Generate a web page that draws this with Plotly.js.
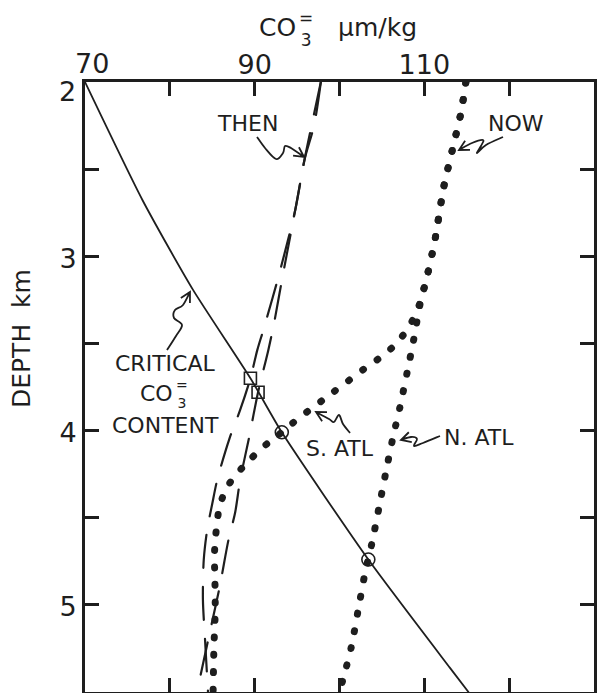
<!DOCTYPE html>
<html>
<head>
<meta charset="utf-8">
<script src="https://cdn.plot.ly/plotly-3.0.1.min.js"></script>
<style>
  html, body { margin: 0; padding: 0; background: #ffffff; }
  #chart { width: 609px; height: 693px; }
  .scatterlayer .js-line { stroke-linecap: round; }
</style>
</head>
<body>
<div id="chart"></div>
<script>
// ---------------- DATA ----------------
// Critical CO3= content (solid line)
const critCO3   = [70.0, 76.8, 82.7, 89.5, 93.2, 103.4, 113.0, 115.2];
const critDepth = [2.00, 2.68, 3.19, 3.70, 4.01, 4.74, 5.36, 5.50];

// "THEN" profiles (long-dashed), two branches
const thenACO3   = [97.8, 97.0, 95.9, 94.8, 92.9, 91.1, 90.3, 89.5, 88.3, 87.0, 85.6, 85.0, 84.4, 84.0, 83.9, 84.15, 84.5];
const thenADepth = [2.00, 2.25, 2.44, 2.73, 3.10, 3.41, 3.54, 3.70, 3.88, 4.05, 4.28, 4.42, 4.57, 4.74, 4.97, 5.20, 5.50];
const thenBCO3   = [97.8, 95.9, 94.8, 93.35, 92.3, 91.6, 90.4, 89.3, 88.3, 87.7, 86.9, 85.9, 84.7, 83.2];
const thenBDepth = [2.00, 2.44, 2.73, 3.10, 3.38, 3.54, 3.78, 4.05, 4.28, 4.47, 4.63, 4.89, 5.16, 5.50];

// "NOW" profiles (dotted): shared upper part, then N. Atlantic and S. Atlantic branches
const nowUpperCO3   = [114.9, 114.3, 113.3, 112.3, 111.2, 110.3, 109.6];
const nowUpperDepth = [2.00, 2.18, 2.39, 2.60, 2.92, 3.12, 3.25];
const nAtlCO3   = [108.7, 108.0, 107.15, 106.3, 105.5, 104.7, 103.85, 103.0, 102.2, 101.4, 100.4, 100.0];
const nAtlDepth = [3.49, 3.66, 3.86, 4.04, 4.23, 4.43, 4.64, 4.82, 5.03, 5.24, 5.43, 5.50];
const sAtlCO3   = [108.9, 107.85, 106.3, 104.55, 102.8, 100.9, 99.25, 97.35, 95.7, 94.4, 93.2, 91.6, 90.2, 88.6, 87.35, 86.4, 85.8, 85.55, 85.35, 85.25, 85.3, 85.35, 85.2, 85.1];
const sAtlDepth = [3.34, 3.43, 3.52, 3.59, 3.65, 3.72, 3.78, 3.85, 3.91, 3.96, 4.01, 4.07, 4.13, 4.21, 4.28, 4.36, 4.45, 4.54, 4.63, 4.73, 4.82, 5.03, 5.24, 5.50];

// Intersections: squares (THEN x critical), circles (NOW x critical)
const squareCO3   = [89.5, 90.4];
const squareDepth = [3.70, 3.78];
const circleCO3   = [93.2, 103.4];
const circleDepth = [4.01, 4.74];

// Axis ticks (the corner labels "70" and "2" are placed as separate texts, as in the original lettering)
const xTickVals = [70, 80, 90, 100, 110, 120, 130];
const xTickText = ['', '', '90', '', '110', '', '130'];
const yTickVals = [2, 2.5, 3, 3.5, 4, 4.5, 5];
const yTickText = ['', '', '3', '', '4', '', '5'];
const cornerXLabel = '70';
const cornerYLabel = '2';

// ---------------- STYLE / LAYOUT ----------------
const INK = '#1e1e1e';
const FONT = 'DejaVu Sans, Liberation Sans, sans-serif';
const L0 = 85, T0 = 82, W = 509, H = 610;
const px = x => (x - L0) / W;
const py = y => (T0 + H - y) / H;

const traces = [
  { x: critCO3, y: critDepth, mode: 'lines', line: { color: INK, width: 1.8, shape: 'spline', smoothing: 0.6 }, hoverinfo: 'skip' },
  { x: thenACO3, y: thenADepth, mode: 'lines', line: { color: INK, width: 2.2, dash: '33px,19px', shape: 'spline', smoothing: 0.8 }, hoverinfo: 'skip' },
  { x: thenBCO3, y: thenBDepth, mode: 'lines', line: { color: INK, width: 2.2, dash: '33px,19px', shape: 'spline', smoothing: 0.8 }, hoverinfo: 'skip' },
  { x: nowUpperCO3.concat(nAtlCO3), y: nowUpperDepth.concat(nAtlDepth), mode: 'lines', line: { color: INK, width: 7, dash: '1px,16.5px', shape: 'spline', smoothing: 0.8 }, hoverinfo: 'skip' },
  { x: nowUpperCO3.concat(sAtlCO3), y: nowUpperDepth.concat(sAtlDepth), mode: 'lines', line: { color: INK, width: 7, dash: '1px,16.5px', shape: 'spline', smoothing: 0.8 }, hoverinfo: 'skip' },
  { x: squareCO3, y: squareDepth, mode: 'markers', marker: { symbol: 'square-open', size: 12, color: INK, line: { width: 1.6, color: INK } }, hoverinfo: 'skip' },
  { x: circleCO3, y: circleDepth, mode: 'markers', marker: { symbol: 'circle-open', size: 13, color: INK, line: { width: 1.6, color: INK } }, hoverinfo: 'skip' }
];

function squiggle(pts) {
  const P = pts.map(p => [px(p[0]), py(p[1])]);
  let d = `M${P[0][0]},${P[0][1]}`;
  for (let i = 0; i < P.length - 1; i++) {
    const p0 = P[Math.max(0, i - 1)], p1 = P[i], p2 = P[i + 1], p3 = P[Math.min(P.length - 1, i + 2)];
    const c1 = [p1[0] + (p2[0] - p0[0]) / 6, p1[1] + (p2[1] - p0[1]) / 6];
    const c2 = [p2[0] - (p3[0] - p1[0]) / 6, p2[1] - (p3[1] - p1[1]) / 6];
    d += ` C${c1[0]},${c1[1]} ${c2[0]},${c2[1]} ${p2[0]},${p2[1]}`;
  }
  const t = pts[pts.length - 1], s = pts[pts.length - 2];
  let dx = s[0] - t[0], dy = s[1] - t[1];
  const len = Math.hypot(dx, dy); dx /= len; dy /= len;
  const ang = 28 * Math.PI / 180, L = 11;
  const w1 = [t[0] + L * (dx * Math.cos(ang) - dy * Math.sin(ang)), t[1] + L * (dx * Math.sin(ang) + dy * Math.cos(ang))];
  const w2 = [t[0] + L * (dx * Math.cos(-ang) - dy * Math.sin(-ang)), t[1] + L * (dx * Math.sin(-ang) + dy * Math.cos(-ang))];
  d += ` M${px(w1[0])},${py(w1[1])} L${px(t[0])},${py(t[1])} L${px(w2[0])},${py(w2[1])}`;
  return { type: 'path', xref: 'paper', yref: 'paper', path: d, line: { color: INK, width: 1.8 } };
}

const shapes = [
  squiggle([[257,137],[265,148],[276,159],[283,153],[285,146],[291,148],[304,157]]),        // THEN
  squiggle([[503,137],[486,145],[477,153],[481,146],[483,140],[472,143],[459,150]]),        // NOW
  squiggle([[167,350],[176,336],[182,325],[174,318],[175,310],[183,305],[190,292]]),        // CRITICAL
  squiggle([[350,433],[343,424],[339,415],[334,422],[329,419],[316,412]]),                  // S. ATL
  squiggle([[440,436],[423,443],[414,446],[417,439],[411,437],[401,440]])                   // N. ATL
];

function lab(text, x, y, size, opts) {
  return Object.assign({ xref: 'paper', yref: 'paper', x: px(x), y: py(y), text: text, showarrow: false,
    xanchor: 'center', yanchor: 'middle', font: { family: FONT, size: size, color: INK } }, opts || {});
}

const annotations = [
  // corner tick labels
  lab(cornerXLabel, 92, 64, 27),
  lab(cornerYLabel, 67, 91, 27),
  // x-axis title: CO3= µm/kg (stacked = over 3)
  lab('CO', 298, 28, 25, { xanchor: 'right' }),
  lab('=<br>3', 306, 29, 17),
  lab('\u03BCm/kg', 336, 28, 25, { xanchor: 'left' }),
  // y-axis title
  lab('DEPTH  km', 21, 339, 25, { textangle: -90 }),
  // curve labels
  lab('THEN', 247, 123, 22),
  lab('NOW', 516, 123, 22),
  lab('CRITICAL', 165, 363, 22),
  lab('CO', 175, 393, 22, { xanchor: 'right' }),
  lab('=<br>3', 182, 394, 14),
  lab('CONTENT', 165, 425, 22),
  lab('S. ATL', 340, 448, 22),
  lab('N. ATL', 479, 437, 22)
];

const axisCommon = {
  ticks: 'inside', ticklen: 14, tickwidth: 3, tickcolor: INK,
  showline: true, linewidth: 3, linecolor: INK, mirror: 'allticks',
  showgrid: false, zeroline: false, fixedrange: true,
  tickfont: { family: FONT, size: 27, color: INK }
};

const layout = {
  width: 609, height: 693,
  margin: { l: L0, r: 609 - L0 - W, t: T0, b: 693 - T0 - H, pad: 0 },
  paper_bgcolor: '#ffffff', plot_bgcolor: '#ffffff',
  showlegend: false,
  xaxis: Object.assign({}, axisCommon, { range: [70, 130], side: 'top', tickmode: 'array', tickvals: xTickVals, ticktext: xTickText, ticklabelstandoff: -6 }),
  yaxis: Object.assign({}, axisCommon, { range: [5.5, 2], tickmode: 'array', tickvals: yTickVals, ticktext: yTickText, ticklabelshift: -2 }),
  shapes: shapes,
  annotations: annotations
};

Plotly.newPlot('chart', traces, layout, { staticPlot: true, displayModeBar: false });
</script>
</body>
</html>
